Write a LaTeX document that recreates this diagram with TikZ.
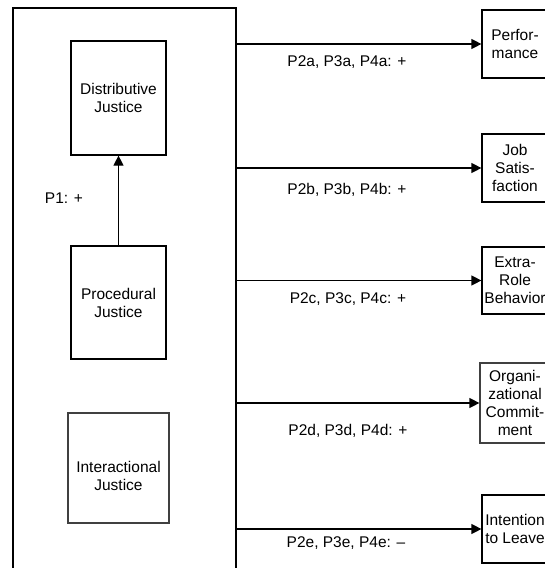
\documentclass[tikz,border=0pt]{standalone}
\usepackage{fontspec}
\setmainfont{Liberation Sans}
\usetikzlibrary{positioning, arrows.meta}

\begin{document}
\begin{tikzpicture}[
  x=0.5pt, y=-0.5pt,
  font=\fontsize{7.75}{9}\selectfont,
  construct/.style={draw, line width=0.6pt, align=center, inner sep=1pt},
  outcome/.style={draw, line width=0.6pt, align=center, inner sep=1pt, minimum width=33pt, minimum height=34pt},
  lbl/.style={inner sep=0pt},
  arr/.style={-{Triangle[length=5pt, width=5pt]}, line width=0.6pt}
]
\useasboundingbox (0,0) rectangle (545,568);
\clip (0,0) rectangle (545,568);

% --- justice frame (open at the bottom) ---
\node[construct, minimum width=111.5pt, minimum height=316pt] (frame) at (124.5,324) {};

% --- justice constructs ---
\node[construct, minimum width=47.5pt, minimum height=57pt] (dist)  at (118.5,98)  {Distributive\\Justice};
\node[construct, minimum width=47.5pt, minimum height=56.5pt] (proc) at (118.5,302.5) {Procedural\\Justice};
\node[construct, draw=black!75, minimum width=50.5pt, minimum height=55pt,
  label={[lbl, align=center, yshift=-4pt]center:Interactional\\Justice}] (inter) at (118.5,468) {};
\draw[arr] (proc.north) -- (dist.south);
\node[lbl] (p1) at (64,198) {P1: +};

% --- outcomes ---
\node[outcome] (perf) at (515,44)    {Perfor-\\mance};
\node[outcome] (jobsat) at (515,168) {Job\\Satis-\\faction};
\node[outcome, minimum height=33.5pt] (erb) at (515,280.5) {Extra-\\Role\\Behavior};
\node[outcome, draw=black!75, minimum width=35pt, minimum height=40pt] (orgcom) at (515,403) {Organi-\\zational\\Commit-\\ment};
\node[outcome] (itl) at (515,529)    {Intention\\to Leave};

% --- paths from the frame ---
\draw[arr] (frame.east|-perf)   -- (perf.west);
\draw[arr] (frame.east|-jobsat) -- (jobsat.west);
\draw[arr] (frame.east|-erb)    -- (erb.west);
\draw[arr] (frame.east|-orgcom) -- (orgcom.west);
\draw[arr] (frame.east|-itl)    -- (itl.west);

\node[lbl] (la) at (347,62)  {P2a, P3a, P4a: +};
\node[lbl] (lb) at (347,190) {P2b, P3b, P4b: +};
\node[lbl] (lc) at (348,299) {P2c, P3c, P4c: +};
\node[lbl] (ld) at (348,431) {P2d, P3d, P4d: +};
\node[lbl] (le) at (346,543) {P2e, P3e, P4e: --};
\end{tikzpicture}
\end{document}
